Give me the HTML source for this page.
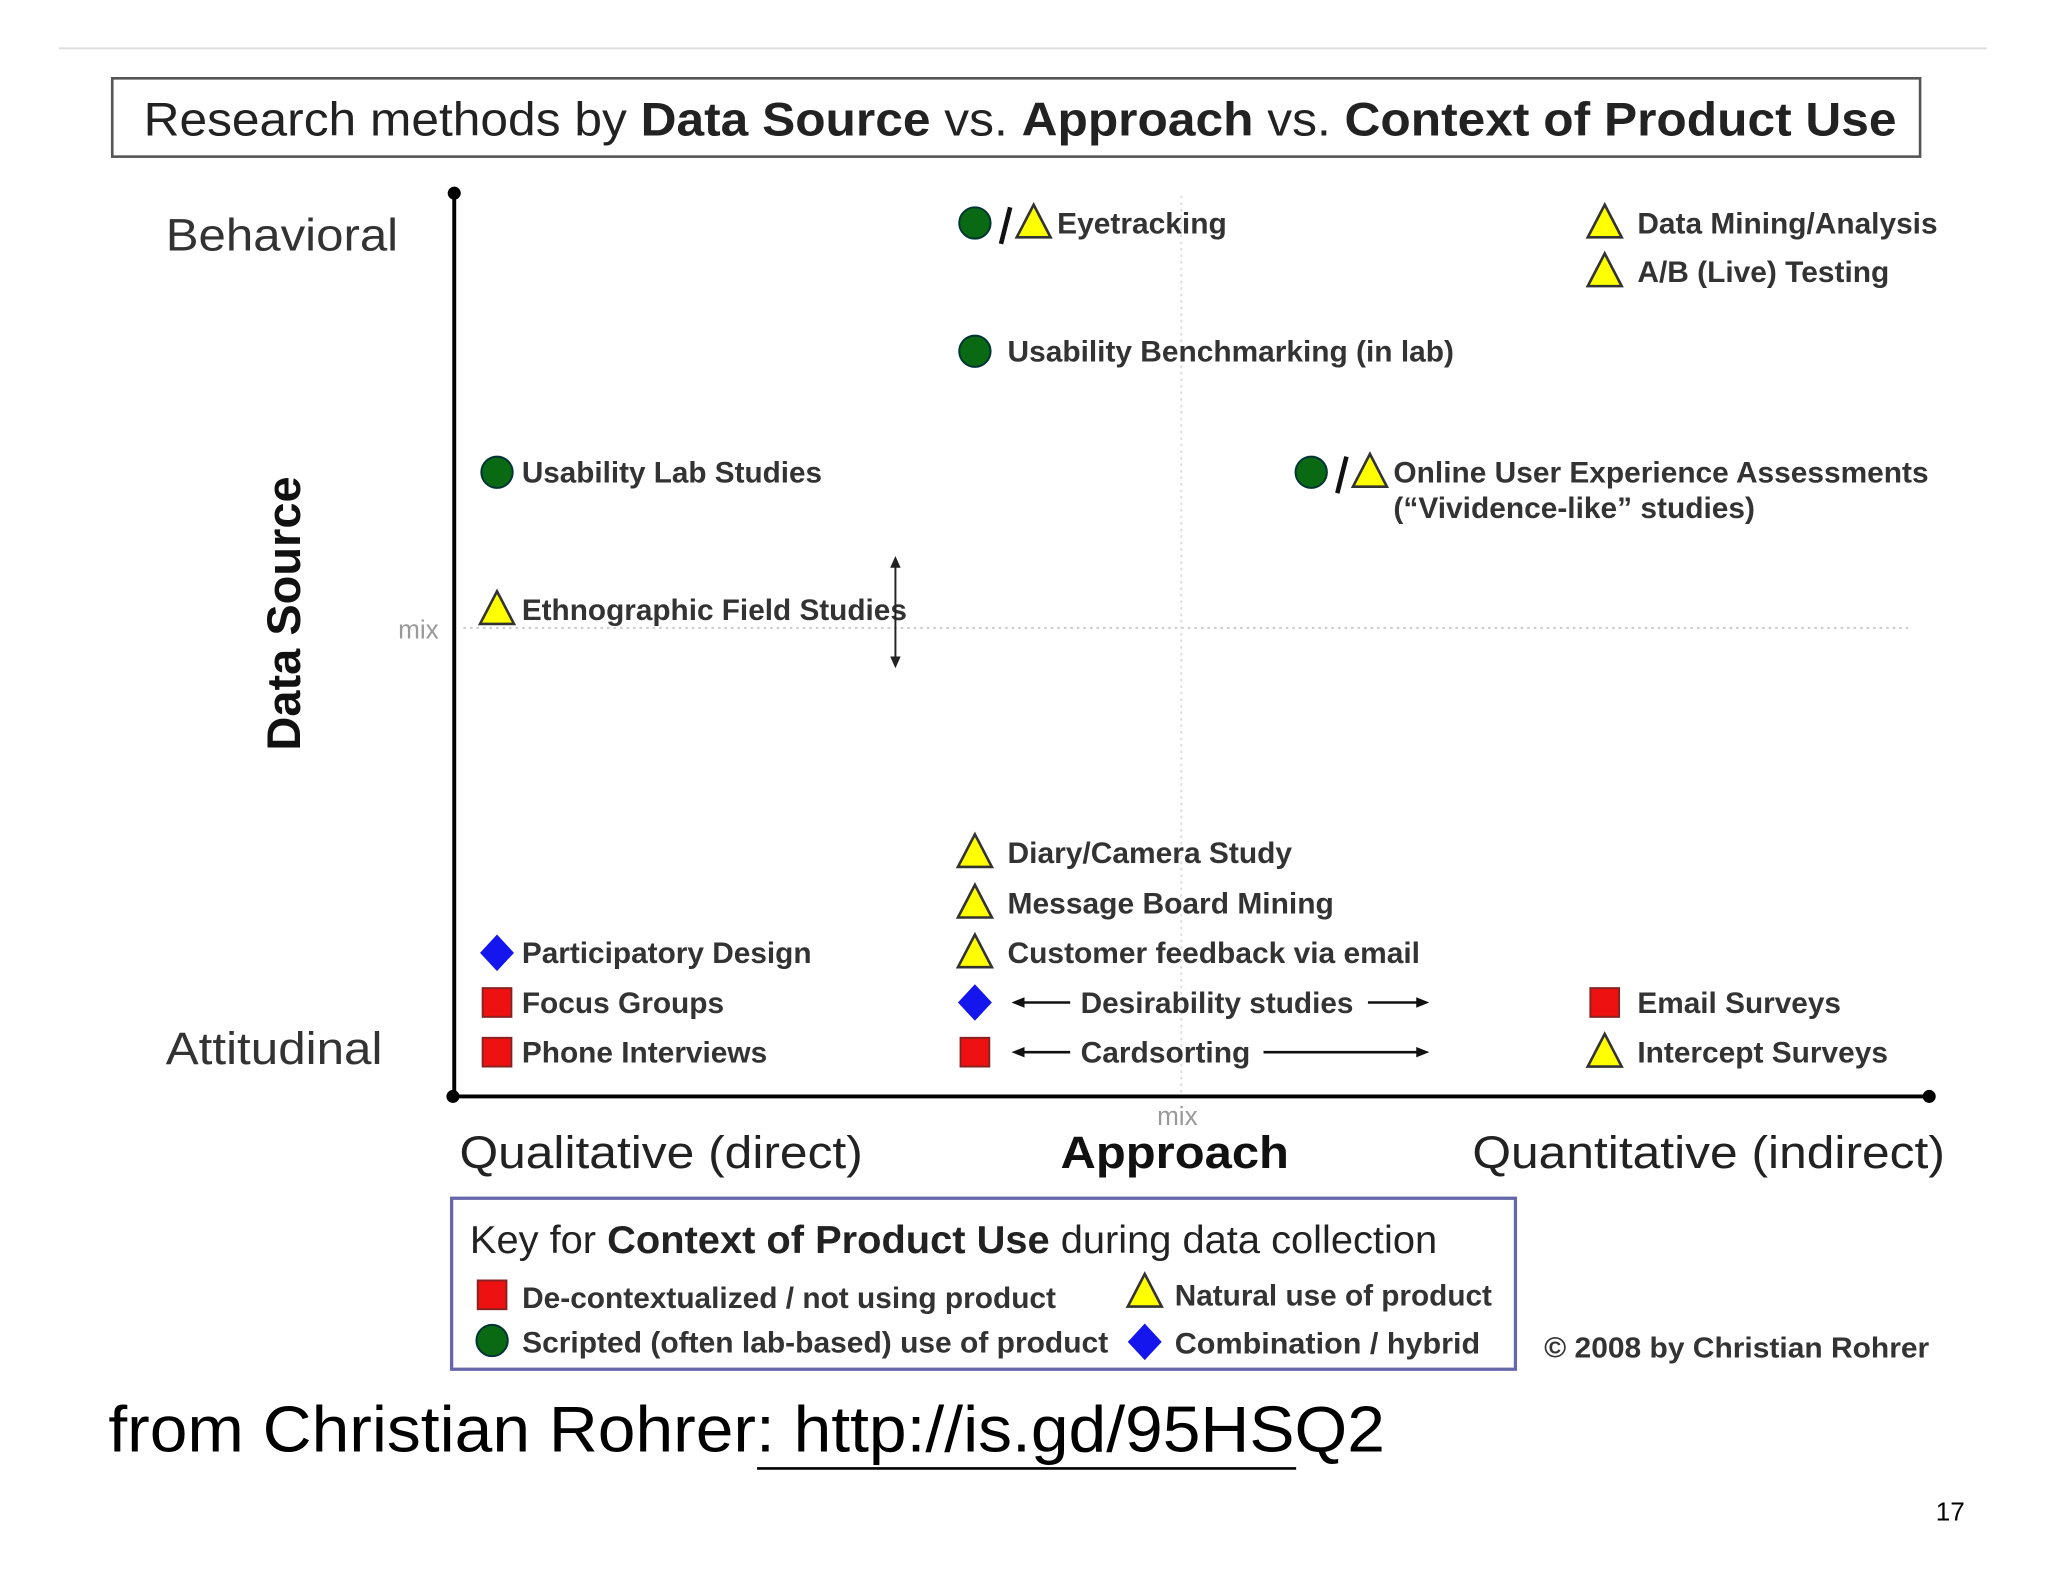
<!DOCTYPE html>
<html><head><meta charset="utf-8"><style>
html,body{margin:0;padding:0;background:#fff}
svg{display:block}
text{font-family:"Liberation Sans",Arial,sans-serif}
</style></head><body>
<svg id="chart" width="2048" height="1582" viewBox="0 0 1569 1212" preserveAspectRatio="none" xmlns="http://www.w3.org/2000/svg">
<line x1="45" y1="37" x2="1522" y2="37" stroke="#ddd" stroke-width="1.5"/>
<rect x="86" y="60" width="1385" height="60" fill="#fff" stroke="#555" stroke-width="2"/>
<text x="110" y="104" font-size="36" fill="#222" textLength="1343" lengthAdjust="spacingAndGlyphs">Research methods by <tspan font-weight="bold">Data Source</tspan> vs. <tspan font-weight="bold">Approach</tspan> vs. <tspan font-weight="bold">Context of Product Use</tspan></text>

<line x1="355" y1="481" x2="1465" y2="481" stroke="#ccc" stroke-width="1.5" stroke-dasharray="2,3"/>
<line x1="905" y1="150" x2="905" y2="838" stroke="#ddd" stroke-width="1.5" stroke-dasharray="2,3"/>
<line x1="348" y1="148" x2="348" y2="840" stroke="#000" stroke-width="3"/>
<line x1="346" y1="840" x2="1478" y2="840" stroke="#000" stroke-width="3"/>
<circle cx="348" cy="148" r="5"/>
<circle cx="347" cy="840" r="5"/>
<circle cx="1478" cy="840" r="5"/>

<text x="127" y="192" font-size="35" fill="#333" textLength="178" lengthAdjust="spacingAndGlyphs">Behavioral</text>
<text x="127" y="815" font-size="35" fill="#333" textLength="166" lengthAdjust="spacingAndGlyphs">Attitudinal</text>
<text transform="translate(230,470) rotate(-90)" text-anchor="middle" font-size="36" font-weight="bold" fill="#111">Data Source</text>
<text x="305" y="489" font-size="20" fill="#999">mix</text>
<text x="902" y="862" font-size="20" fill="#999" text-anchor="middle">mix</text>
<text x="352" y="895" font-size="35" fill="#222" textLength="309" lengthAdjust="spacingAndGlyphs">Qualitative (direct)</text>
<text x="900" y="895" font-size="35" font-weight="bold" fill="#111" text-anchor="middle" textLength="175" lengthAdjust="spacingAndGlyphs">Approach</text>
<text x="1128" y="895" font-size="35" fill="#222" textLength="362" lengthAdjust="spacingAndGlyphs">Quantitative (indirect)</text>

<g id="marks"></g>

<g stroke="#222" stroke-width="1.5" fill="#222">
<line x1="686" y1="432" x2="686" y2="506"/>
<polygon points="686,426 682,435 690,435" stroke="none"/>
<polygon points="686,512 682,503 690,503" stroke="none"/>
</g>

<rect x="346" y="918" width="815" height="131" fill="#fff" stroke="#6666aa" stroke-width="2.5"/>
<text x="360" y="960" font-size="30" fill="#222" textLength="741" lengthAdjust="spacingAndGlyphs">Key for <tspan font-weight="bold">Context of Product Use</tspan> during data collection</text>
<g id="legend"></g>

<text x="1183" y="1040" font-size="22" font-weight="bold" fill="#333" textLength="295" lengthAdjust="spacingAndGlyphs">© 2008 by Christian Rohrer</text>
<text x="83" y="1112" font-size="50" fill="#000" textLength="978" lengthAdjust="spacingAndGlyphs">from Christian Rohrer: http://is.gd/95HSQ2</text>
<line x1="580" y1="1125" x2="993" y2="1125" stroke="#000" stroke-width="2"/>
<text x="1483" y="1165" font-size="20" fill="#000">17</text>
</svg>
<script>
// data: approach (0=qualitative .. 100=quantitative), data source (0=attitudinal .. 100=behavioral)
const methodNames = ["Eyetracking","Data Mining/Analysis","A/B (Live) Testing","Usability Benchmarking (in lab)","Usability Lab Studies","Online User Experience Assessments","Ethnographic Field Studies","Diary/Camera Study","Message Board Mining","Customer feedback via email","Participatory Design","Focus Groups","Phone Interviews","Desirability studies","Cardsorting","Email Surveys","Intercept Surveys"];
const approachValues = [35.3,78,78,35.3,2.9,58.1,2.9,35.3,35.3,35.3,2.9,2.9,2.9,35.3,35.3,78,78];
const sourceValues = [96.7,96.7,91.3,82.5,69.1,69.1,53.9,27,21.4,15.9,15.9,10.4,4.9,10.4,4.9,10.4,4.9];
const contextTypes = ["scripted/natural","natural","natural","scripted","scripted","scripted/natural","natural","natural","natural","natural","hybrid","decontext","decontext","hybrid","decontext","decontext","natural"];
const labelWidths = [130,230,193,342,230,410,295,218,250,316,222,155,188,209,130,156,192];

const X0=348, X1=1478, Y0=840, Y1=148;
function xScale(v){return X0+(X1-X0)*v/100;}
function yScale(v){return Y0-(Y0-Y1)*v/100;}
const NS="http://www.w3.org/2000/svg";
function mk(tag,attrs,parent){const e=document.createElementNS(NS,tag);for(const k in attrs)e.setAttribute(k,attrs[k]);parent.appendChild(e);return e;}

function drawMarker(type,cx,cy,parent){
  let e;
  if(type==="scripted"){e=mk("circle",{cx:cx,cy:cy,r:12,fill:"#0a6a14",stroke:"#033","stroke-width":1.5},parent);}
  else if(type==="natural"){e=mk("polygon",{points:`${cx},${cy-14} ${cx-13},${cy+11} ${cx+13},${cy+11}`,fill:"#ffff00",stroke:"#333","stroke-width":2},parent);}
  else if(type==="decontext"){e=mk("rect",{x:cx-11,y:cy-11,width:22,height:22,fill:"#ee1111",stroke:"#822","stroke-width":1.5},parent);}
  else {e=mk("polygon",{points:`${cx},${cy-14} ${cx+13},${cy} ${cx},${cy+14} ${cx-13},${cy}`,fill:"#1515ee"},parent);}
  
  
  return e;
}

const marks=document.getElementById("marks");
methodNames.forEach((name,i)=>{
  const cx=xScale(approachValues[i]), cy=yScale(sourceValues[i]);
  const g=mk("g",{},marks);
  
  
  const t=contextTypes[i];
  let tx=cx+25;
  if(t==="scripted/natural"){
    drawMarker("scripted",cx,cy,g);
    const s=mk("line",{x1:cx+27,y1:cy-12,x2:cx+20,y2:cy+16,stroke:"#111","stroke-width":3.5},g);
    
    
    drawMarker("natural",cx+45,cy,g);
    tx=cx+63;
  } else {
    drawMarker(t,cx,cy,g);
    if(cx<400) tx=cx+19;
  }
  let lx=tx;
  if(name==="Desirability studies"||name==="Cardsorting"){
    const a=mk("g",{stroke:"#111","stroke-width":2,fill:"#111"},g);
    
    
    mk("line",{x1:cx+36,y1:cy,x2:cx+73,y2:cy},a);
    mk("polygon",{points:`${cx+28},${cy} ${cx+38},${cy-4} ${cx+38},${cy+4}`,stroke:"none"},a);
    const re = name==="Cardsorting" ? [968,1086] : [1048,1086];
    mk("line",{x1:re[0],y1:cy,x2:re[1],y2:cy},a);
    mk("polygon",{points:`${re[1]+9},${cy} ${re[1]-1},${cy-4} ${re[1]-1},${cy+4}`,stroke:"none"},a);
    lx=cx+81;
  }
  const txt=mk("text",{x:lx,y:cy+8,"font-size":23,"font-weight":"bold",fill:"#333",textLength:labelWidths[i],lengthAdjust:"spacingAndGlyphs"},g);
  txt.textContent=name;
  
  
  if(name.startsWith("Online")){
    const t2=mk("text",{x:lx,y:cy+35,"font-size":23,"font-weight":"bold",fill:"#333",textLength:277,lengthAdjust:"spacingAndGlyphs"},g);
    t2.textContent="(“Vividence-like” studies)";
    
    
  }
});

const legendTypes=["decontext","natural","scripted","hybrid"];
const legendLabels=["De-contextualized / not using product","Natural use of product","Scripted (often lab-based) use of product","Combination /  hybrid"];
const legendPos=[[377,992,400,1002,409],[877,990,900,1000,243],[377,1027,400,1036,449],[877,1028,900,1037,234]];
const lg=document.getElementById("legend");
legendTypes.forEach((t,i)=>{
  const p=legendPos[i];
  const g=mk("g",{},lg);
  
  
  drawMarker(t,p[0],p[1],g);
  const tx=mk("text",{x:p[2],y:p[3],"font-size":23,"font-weight":"bold",fill:"#333",textLength:p[4],lengthAdjust:"spacingAndGlyphs"},g);
  tx.textContent=legendLabels[i];
  
  
});
</script>
</body></html>
